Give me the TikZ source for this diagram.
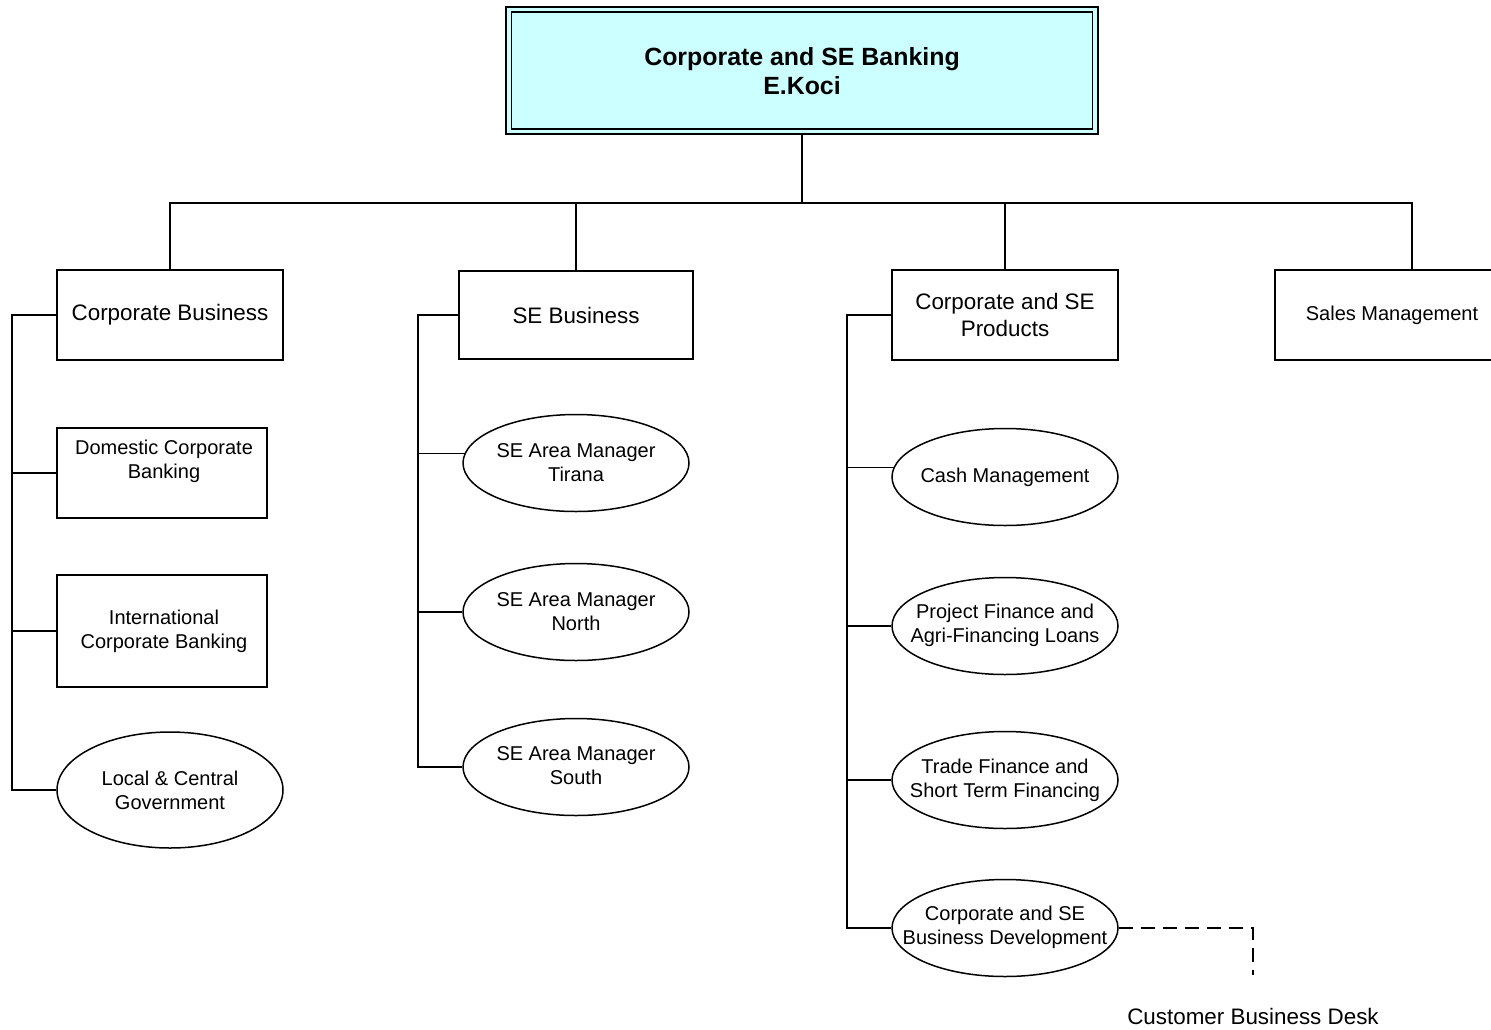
\documentclass[tikz,border=0pt]{standalone}
\usepackage{fontspec}
\setmainfont{Liberation Sans}
\usetikzlibrary{shapes.geometric}
\definecolor{topfill}{HTML}{CCFFFF}
\begin{document}
\begin{tikzpicture}[x=1pt,y=-1pt,
  rbox/.style={draw, line width=1.5pt, inner sep=0pt},
  oval/.style={draw, ellipse, line width=1.5pt, inner sep=0pt, minimum width=226pt, minimum height=97pt},
  tbig/.style={align=center, inner sep=0pt, font=\fontsize{22.4}{27}\selectfont},
  tsmall/.style={align=center, inner sep=0pt, font=\fontsize{20}{24}\selectfont},
  tree/.style={line width=1.5pt},
  bus/.style={line width=2.8pt},
  dline/.style={line width=1.6pt, dash pattern=on 14pt off 8pt}
]
\clip (0,0) rectangle (1491,1029);
\fill[white] (0,0) rectangle (1491,1029);

% top box
\node[draw, line width=1.8pt, double=topfill, double distance=3.6pt, fill=topfill,
      minimum width=586.5pt, minimum height=122pt, inner sep=0pt] (top) at (802,70.6) {};
\node[align=center, inner sep=0pt, font=\bfseries\fontsize{24.9}{29.5}\selectfont] (toptxt) at (802,71) {Corporate and SE Banking\\E.Koci};

% second level boxes
\node[rbox, line width=2.5pt, minimum width=226pt, minimum height=90pt] (cb) at (170,315) {};
\node[tbig] (cbt) at (170,315) {Corporate Business};
\node[rbox, minimum width=234pt, minimum height=88pt] (seb) at (576,315) {};
\node[tbig] (sebt) at (576,315) {SE Business};
\node[rbox, line width=1.1pt, minimum width=226pt, minimum height=90pt] (prod) at (1005,315) {};
\node[tbig] (prodt) at (1005,315) {Corporate and SE\\Products};
\node[rbox, minimum width=274pt, minimum height=90pt] (sales) at (1412,315) {};
\node[tsmall] (salest) at (1392,315) {Sales Management};

% bus
\coordinate (j) at (802,203);
\draw[bus] (top.south) -- (j);
\draw[bus] (j) -| (cb.north);
\draw[bus] (j) -| (seb.north);
\draw[bus] (j) -| (prod.north);
\draw[bus] (j) -| (sales.north);

% left column
\node[rbox, minimum width=210pt, minimum height=90pt] (dom) at (162,473) {};
\node[tsmall] (domt) at (164,461) {Domestic Corporate\\Banking};
\node[rbox, minimum width=210pt, minimum height=112pt] (intl) at (162,631) {};
\node[tsmall] (intlt) at (164,631) {International\\Corporate Banking};
\node[oval, minimum height=116pt] (loc) at (170,790) {};
\node[tsmall] (loct) at (170,790) {Local \& Central\\Government};

\coordinate (lvb) at (12,790);
\draw[tree] (cb.west) -- (cb.west -| lvb) -- (lvb) -- (loc.west);
\draw[tree] (dom.west) -- (dom.west -| lvb);
\draw[tree] (intl.west) -- (intl.west -| lvb);

% SE column
\node[oval] (tir) at (576,463) {};
\node[tsmall] (tirt) at (576,463) {SE Area Manager\\Tirana};
\node[oval] (nor) at (576,612) {};
\node[tsmall] (nort) at (576,612) {SE Area Manager\\North};
\node[oval] (sou) at (576,767) {};
\node[tsmall] (sout) at (576,766) {SE Area Manager\\South};

\coordinate (svb) at (418,767);
\draw[tree] (seb.west) -- (seb.west -| svb) -- (svb) -- (sou.west);
\draw[tree] (tir.175) -- (tir.175 -| svb);
\draw[tree] (nor.west) -- (nor.west -| svb);

% products column
\node[oval] (cash) at (1005,477) {};
\node[tsmall] (casht) at (1005,477) {Cash Management};
\node[oval] (proj) at (1005,626) {};
\node[tsmall] (projt) at (1005,625) {Project Finance and\\Agri-Financing Loans};
\node[oval] (trade) at (1005,780) {};
\node[tsmall] (tradet) at (1005,780) {Trade Finance and\\Short Term Financing};
\node[oval] (bd) at (1005,928) {};
\node[tsmall] (bdt) at (1005,927) {Corporate and SE\\Business Development};

\coordinate (pvb) at (847,928);
\draw[tree] (prod.west) -- (prod.west -| pvb) -- (pvb) -- (bd.west);
\draw[tree] (cash.175) -- (cash.175 -| pvb);
\draw[tree] (proj.west) -- (proj.west -| pvb);
\draw[tree] (trade.west) -- (trade.west -| pvb);

% dashed link
\coordinate (cbd) at (1253,975);
\draw[dline] (bd.east) -| (cbd);
\node[tbig] (desk) at (1253,1016) {Customer Business Desk};
\end{tikzpicture}
\end{document}
